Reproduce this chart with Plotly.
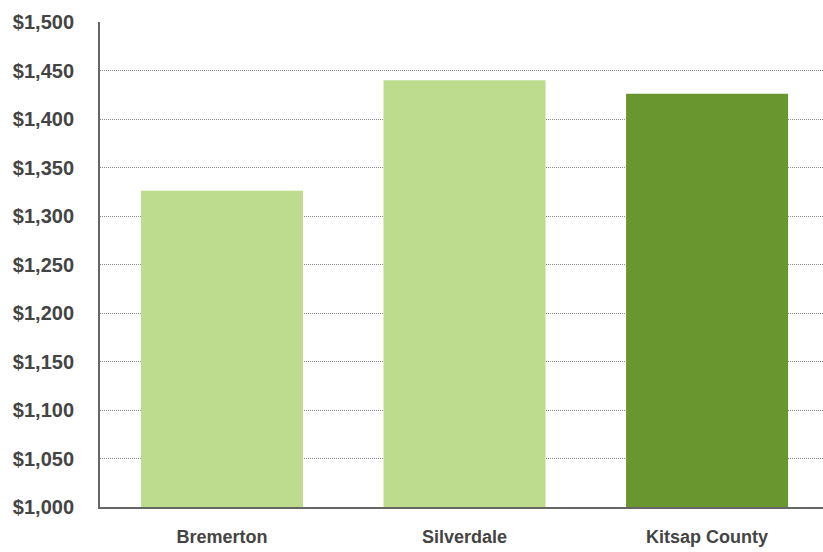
import plotly.graph_objects as go

categories = ["Bremerton", "Silverdale", "Kitsap County"]
values = [1326, 1440, 1426]
bar_colors = ["#BDDC8E", "#BDDC8E", "#6A962F"]

FONT = "Liberation Sans Narrow, Arial Narrow, Liberation Sans, sans-serif"

fig = go.Figure(go.Bar(x=categories, y=values, marker=dict(color=bar_colors, line=dict(width=0))))

fig.update_layout(
    width=823, height=552,
    margin=dict(l=100, r=0, t=22, b=45),
    plot_bgcolor="white", paper_bgcolor="white",
    bargap=0.332,
    showlegend=False,
    font=dict(family=FONT, color="#444444"),
)
fig.update_yaxes(
    range=[1000, 1500], dtick=50, tickprefix="$", tickformat=",",
    showgrid=True, gridcolor="#8a8a8a", griddash="1px,1px", gridwidth=1,
    showline=True, linecolor="#666666", linewidth=2,
    ticks="", ticklabelstandoff=20, automargin=False,
    tickfont=dict(size=20, family=FONT, color="#444444", weight="bold"),
    zeroline=False,
)
fig.update_xaxes(
    range=[-0.503, 2.478],
    showline=True, linecolor="#666666", linewidth=2,
    ticks="", ticklabelstandoff=12, automargin=False,
    tickfont=dict(size=18, family=FONT, color="#444444", weight="bold"),
)

fig.write_html("out.html", config={"displayModeBar": False},
               post_script="document.body.style.margin='0px';")
